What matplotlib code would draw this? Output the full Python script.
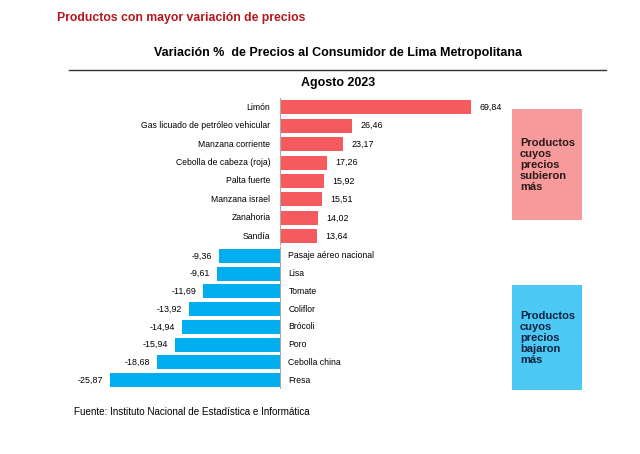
import matplotlib.pyplot as plt
from matplotlib.patches import Rectangle

plt.rcParams["font.family"] = ["Liberation Sans", "DejaVu Sans"]

up_labels = ["Limón", "Gas licuado de petróleo vehicular", "Manzana corriente",
             "Cebolla de cabeza (roja)", "Palta fuerte", "Manzana israel",
             "Zanahoria", "Sandía"]
up_values = [69.84, 26.46, 23.17, 17.26, 15.92, 15.51, 14.02, 13.64]

down_labels = ["Pasaje aéreo nacional", "Lisa", "Tomate", "Coliflor", "Brócoli",
               "Poro", "Cebolla china", "Fresa"]
down_values = [-9.36, -9.61, -11.69, -13.92, -14.94, -15.94, -18.68, -25.87]

RED = "#f45a5e"
BLUE = "#00aeef"
W, H = 640, 454


def px_axes(fig, x0, y0, x1, y1):
    return fig.add_axes([x0 / W, 1 - y1 / H, (x1 - x0) / W, (y1 - y0) / H])


def fmt(v):
    return f"{v:.2f}".replace(".", ",")


fig = plt.figure(figsize=(6.4, 4.54), dpi=100)

fig.text(57 / W, 1 - 18 / H, "Productos con mayor variación de precios",
         color="#b5161e", fontsize=8.8, fontweight="bold", va="center", ha="left")
fig.text(338 / W, 1 - 53 / H, "Variación %  de Precios al Consumidor de Lima Metropolitana",
         fontsize=9, fontweight="bold", va="center", ha="center")
fig.add_artist(plt.Line2D([69 / W, 606 / W], [1 - 70 / H, 1 - 70 / H], color="#333333", lw=1))
fig.text(338 / W, 1 - 83 / H, "Agosto 2023", fontsize=9, fontweight="bold",
         va="center", ha="center")

# top panel: rises
ax1 = px_axes(fig, 100, 98, 500, 245.5)
ax1.barh(range(len(up_values)), up_values, height=0.76, color=RED)
ax1.set_xlim(-180 / 2.735, 220 / 2.735)
ax1.set_ylim(len(up_values) - 0.5, -0.5)
for i, (lab, v) in enumerate(zip(up_labels, up_values)):
    ax1.annotate(lab, (0, i), xytext=(-7, 0), textcoords="offset points",
                 ha="right", va="center", fontsize=6.2)
    ax1.annotate(fmt(v), (v, i), xytext=(6, 0), textcoords="offset points",
                 ha="left", va="center", fontsize=6.4)
ax1.axvline(0, color="#aaaaaa", lw=0.8)

# bottom panel: falls
ax2 = px_axes(fig, 100, 247, 500, 389)
ax2.barh(range(len(down_values)), down_values, height=0.78, color=BLUE)
ax2.set_xlim(-180 / 6.57, 220 / 6.57)
ax2.set_ylim(len(down_values) - 0.5, -0.5)
for i, (lab, v) in enumerate(zip(down_labels, down_values)):
    ax2.annotate(lab, (0, i), xytext=(6, 0), textcoords="offset points",
                 ha="left", va="center", fontsize=6.2)
    ax2.annotate(fmt(v), (v, i), xytext=(-5, 0), textcoords="offset points",
                 ha="right", va="center", fontsize=6.4)
ax2.axvline(0, color="#aaaaaa", lw=0.8)

for ax in (ax1, ax2):
    ax.axis("off")

# side boxes
fig.add_artist(Rectangle((512 / W, 1 - 220 / H), 70 / W, 111 / H,
                         transform=fig.transFigure, color="#f79a9b", lw=0))
fig.text(520 / W, 1 - 165 / H, "Productos\ncuyos\nprecios\nsubieron\nmás",
         fontsize=8, fontweight="bold", color="#2a1a1a", va="center", ha="left",
         linespacing=1.15)
fig.add_artist(Rectangle((512 / W, 1 - 390 / H), 70 / W, 105 / H,
                         transform=fig.transFigure, color="#4cc8f4", lw=0))
fig.text(520 / W, 1 - 338 / H, "Productos\ncuyos\nprecios\nbajaron\nmás",
         fontsize=8, fontweight="bold", color="#0d2040", va="center", ha="left",
         linespacing=1.15)

fig.text(74 / W, 1 - 412 / H, "Fuente: Instituto Nacional de Estadística e Informática",
         fontsize=7.1, va="center", ha="left")

plt.savefig("out.png", dpi=100)
